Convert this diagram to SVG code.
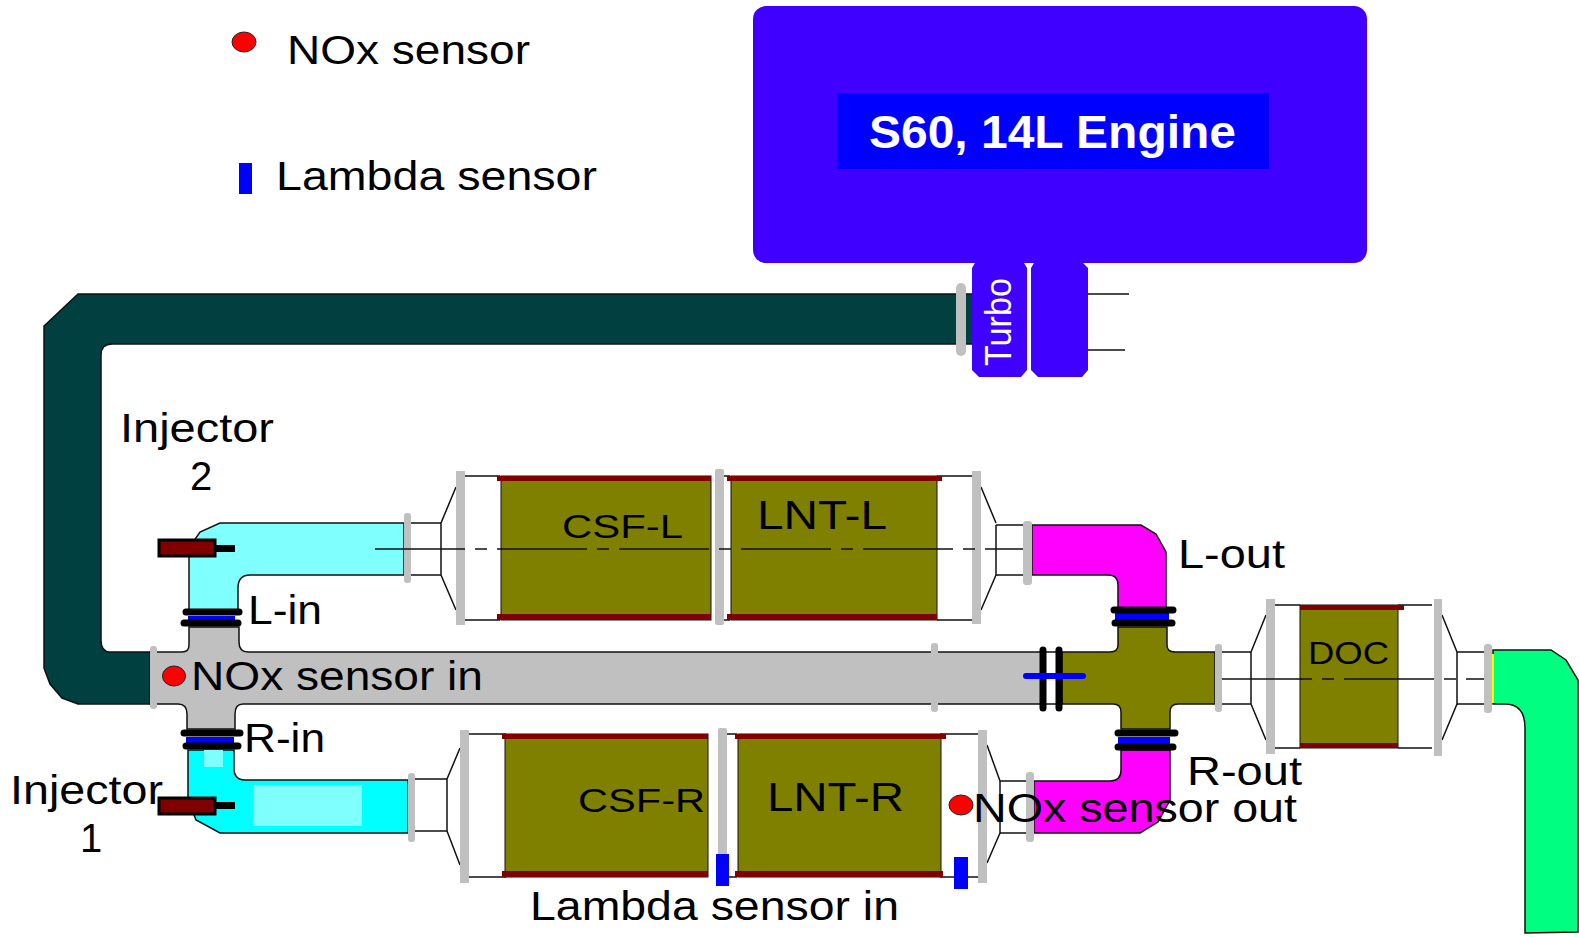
<svg xmlns="http://www.w3.org/2000/svg" width="1579" height="937" viewBox="0 0 1579 937">
<style>
text{font-family:"Liberation Sans",Arial,sans-serif;fill:#000;font-size:40px}
.pipe{stroke:#111;stroke-width:1.5}
.flange{fill:#c0c0c0}
.thin{fill:none;stroke:#111;stroke-width:1.5}
.dash{fill:none;stroke:#111;stroke-width:1.5;stroke-dasharray:90 10 12 10}
.core{fill:#808000;stroke:#111;stroke-width:1}
.cap{fill:#800000}
.ring{stroke:#000;stroke-width:7;stroke-linecap:round;fill:none}
.band{fill:#0000ff}
.red{fill:#ff0000;stroke:#222;stroke-width:1}
.inj{fill:#800000;stroke:#000;stroke-width:3}
</style>
<rect width="1579" height="937" fill="#fff"/>
<g id="connectors">
<path class="pipe" fill="#004040" d="M973 294H78L44 326V668L50 684L62 698L78 704H150V652H110Q101 652 101 640V355Q101 344 112 344H973Z"/>
<path class="pipe" fill="#80ffff" d="M404 523H220L200 532L189 548V612H238V588Q238 575 250 575H404Z"/>
<path class="pipe" fill="#00ffff" d="M408 780H245Q234 780 234 768V750H188V800L196 820L220 833H408Z"/>
<rect x="253" y="785" width="109" height="41" fill="#80ffff"/>
<rect x="204" y="750" width="19" height="17" fill="#80ffff"/>
<path class="pipe" fill="#c0c0c0" d="M150 652H182Q189 652 189 645V627H239V642Q239 652 248 652H1043V704H243Q235 704 235 714V729H187V714Q187 704 178 704H150Z"/>
<path class="pipe" fill="#808000" d="M1062 652H1110Q1118 652 1118 645V627H1167V645Q1167 652 1175 652H1215V704H1178Q1170 704 1170 712V729H1121V712Q1121 704 1113 704H1062Z"/>
<path class="thin" d="M1043 652H1062M1043 704H1062"/>
<path class="pipe" fill="#ff00ff" d="M1032 525H1141L1156 534L1166 552V610H1118V585Q1118 575 1108 575H1032Z"/>
<path class="pipe" fill="#ff00ff" d="M1034 833H1140L1158 822L1170 800V750H1121V770Q1121 781 1110 781H1034Z"/>
<path class="pipe" fill="#00ff80" d="M1493 650H1551L1566 660L1578 680V932L1525 933V728Q1525 704 1505 704H1493Z"/>
<rect x="1492" y="654" width="2" height="49" fill="#ffff00"/>
<rect class="flange" x="150" y="646" width="7" height="63" rx="3"/>
<rect class="flange" x="931" y="643" width="7" height="69" rx="3"/>
<rect class="flange" x="956" y="283" width="10" height="73" rx="5"/>
<rect class="band" x="188" y="616" width="47" height="5"/>
<path class="ring" d="M186 612H239M184 623H238"/>
<rect class="band" x="186" y="737" width="48" height="6"/>
<path class="ring" d="M184 733H240M186 746H238"/>
<rect class="band" x="1115" y="613" width="54" height="8"/>
<path class="ring" d="M1114 610H1173M1115 623H1172"/>
<rect class="band" x="1118" y="737" width="52" height="7"/>
<path class="ring" d="M1118 733H1175M1118 747H1173"/>
<path class="ring" d="M1043 650V708M1059 650V708"/>
<path d="M1026 676H1083" fill="none" stroke="#0000ff" stroke-width="6" stroke-linecap="round"/>
</g>
<g id="engine">
<rect x="753" y="6" width="614" height="257" rx="13" fill="#3f00ff"/>
<rect x="837" y="93" width="432" height="76" fill="#0000ff"/>
<text x="869" y="148" font-size="47" font-weight="700" style="fill:#fff;font-size:47px" textLength="367" lengthAdjust="spacingAndGlyphs">S60, 14L Engine</text>
</g>
<g id="turbo">
<path class="thin" d="M1085 294H1129M1085 350H1125"/>
<path d="M975 263H1024L1027 268V370L1021 377H979L972 370V268Z" fill="#3f00ff"/>
<path d="M1034 263H1083L1088 268V370L1082 377H1038L1031 370V268Z" fill="#3f00ff"/>
<text transform="translate(1011 366) rotate(-90)" style="fill:#fff;font-size:37px" textLength="88" lengthAdjust="spacingAndGlyphs">Turbo</text>
</g>
<g id="can-left">
<path class="thin" d="M411 523H441M411 575H441M441 523V575M441 523L456 487M441 575L456 610M465 476H500M465 620H500M719 476H730M719 620H730M937 476H973M937 620H973"/>
<rect class="core" x="501" y="476" width="210" height="144"/>
<rect class="core" x="731" y="476" width="206" height="144"/>
<rect class="cap" x="497" y="476" width="214" height="5"/><rect class="cap" x="497" y="614" width="214" height="6"/>
<rect class="cap" x="727" y="476" width="215" height="5"/><rect class="cap" x="727" y="614" width="210" height="6"/>
<path class="thin" d="M996 525V575M996 523L981 487M996 575L981 610M996 525H1023M996 575H1023"/>
<rect class="flange" x="404" y="513" width="7" height="70" rx="3"/>
<rect class="flange" x="456" y="471" width="9" height="154"/>
<rect class="flange" x="715" y="469" width="9" height="156" rx="2"/>
<rect class="flange" x="972" y="471" width="9" height="153"/>
<rect class="flange" x="1023" y="521" width="9" height="64" rx="3"/>
<path class="dash" d="M375 549H1023" />
</g>
<g id="can-right">
<path class="thin" d="M415 779H447M415 831H447M447 779V831M447 779L460 748M447 831L460 865M469 734H506M469 877H506M727 734H737M727 877H737M940 734H978M940 877H978"/>
<rect class="core" x="505" y="734" width="203" height="143"/>
<rect class="core" x="738" y="734" width="203" height="143"/>
<rect class="cap" x="502" y="734" width="206" height="5"/><rect class="cap" x="502" y="871" width="206" height="6"/>
<rect class="cap" x="735" y="734" width="211" height="5"/><rect class="cap" x="735" y="871" width="208" height="6"/>
<path class="thin" d="M1000 781V833M1000 781L987 745M1000 833L987 863M1000 781H1026M1000 833H1026"/>
<rect class="flange" x="408" y="773" width="7" height="69" rx="3"/>
<rect class="flange" x="460" y="730" width="9" height="153"/>
<rect class="flange" x="718" y="728" width="9" height="155" rx="2"/>
<rect class="flange" x="978" y="730" width="9" height="153"/>
<rect class="flange" x="1026" y="772" width="8" height="70" rx="3"/>
</g>
<g id="can-doc">
<path class="thin" d="M1222 652H1251M1222 704H1251M1251 652V704M1251 652L1266 615M1251 704L1266 740M1275 605H1300M1275 748H1300M1398 605H1432M1398 748H1432M1457 652V704M1457 652L1442 615M1457 704L1442 740M1457 652H1484M1457 704H1484"/>
<rect class="core" x="1300" y="605" width="98" height="143"/>
<rect class="cap" x="1300" y="605" width="104" height="5"/><rect class="cap" x="1300" y="743" width="98" height="5"/>
<rect class="flange" x="1215" y="644" width="7" height="68" rx="3"/>
<rect class="flange" x="1266" y="599" width="9" height="155"/>
<rect class="flange" x="1434" y="599" width="8" height="157"/>
<rect class="flange" x="1484" y="644" width="8" height="69" rx="3"/>
<path class="dash" d="M1222 679H1484"/>
</g>
<g id="injector-2">
<rect class="inj" x="159" y="540" width="56" height="16"/>
<rect x="215" y="545" width="20" height="7" fill="#000"/>
</g>
<g id="injector-1">
<rect class="inj" x="159" y="798" width="56" height="16"/>
<rect x="215" y="802" width="20" height="7" fill="#000"/>
</g>
<g id="sensors">
<ellipse class="red" cx="244" cy="42" rx="12" ry="10"/>
<rect class="band" x="239" y="163" width="13" height="31"/>
<ellipse class="red" cx="174" cy="676" rx="11.5" ry="10"/>
<ellipse class="red" cx="961" cy="805" rx="12" ry="10"/>
<rect class="band" x="716" y="854" width="13" height="32"/>
<rect class="band" x="954" y="857" width="14" height="32"/>
</g>
<g id="labels">
<text x="287" y="64" textLength="243" lengthAdjust="spacingAndGlyphs">NOx sensor</text>
<text x="276" y="190" textLength="321" lengthAdjust="spacingAndGlyphs">Lambda sensor</text>
<text x="120" y="442" textLength="154" lengthAdjust="spacingAndGlyphs">Injector</text>
<text x="190" y="490">2</text>
<text x="10" y="804" textLength="153" lengthAdjust="spacingAndGlyphs">Injector</text>
<text x="80" y="852">1</text>
<text x="248" y="624" textLength="74" lengthAdjust="spacingAndGlyphs">L-in</text>
<text x="244" y="752" textLength="81" lengthAdjust="spacingAndGlyphs">R-in</text>
<text x="191" y="690" textLength="292" lengthAdjust="spacingAndGlyphs">NOx sensor in</text>
<text x="1178" y="568" textLength="107" lengthAdjust="spacingAndGlyphs">L-out</text>
<text x="1187" y="785" textLength="115" lengthAdjust="spacingAndGlyphs">R-out</text>
<text x="973" y="822" textLength="324" lengthAdjust="spacingAndGlyphs">NOx sensor out</text>
<text x="530" y="920" textLength="369" lengthAdjust="spacingAndGlyphs">Lambda sensor in</text>
<text x="562" y="538" style="font-size:34px" textLength="121" lengthAdjust="spacingAndGlyphs">CSF-L</text>
<text x="757" y="529" textLength="130" lengthAdjust="spacingAndGlyphs">LNT-L</text>
<text x="578" y="812" style="font-size:34px" textLength="127" lengthAdjust="spacingAndGlyphs">CSF-R</text>
<text x="767" y="811" textLength="137" lengthAdjust="spacingAndGlyphs">LNT-R</text>
<text x="1308" y="664" style="font-size:31px" textLength="81" lengthAdjust="spacingAndGlyphs">DOC</text>
</g>
</svg>
